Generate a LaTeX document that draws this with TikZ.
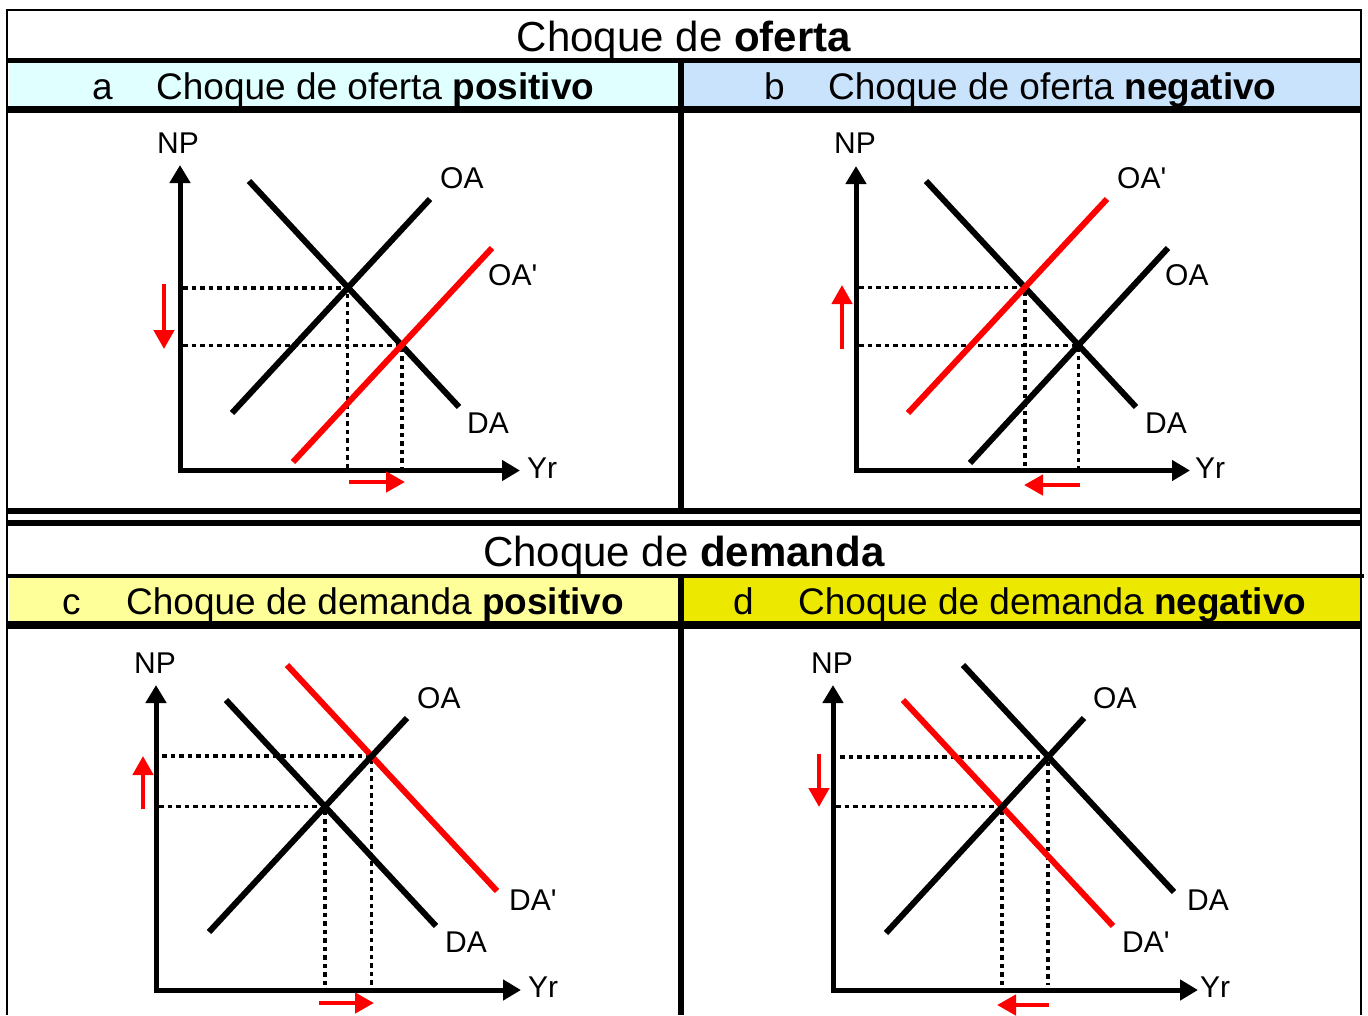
\documentclass[tikz,border=0pt]{standalone}
\usepackage{fontspec}
\setmainfont{Liberation Sans}
\usetikzlibrary{arrows.meta}
\definecolor{fillA}{RGB}{224,255,255}
\definecolor{fillB}{RGB}{202,227,252}
\definecolor{fillC}{RGB}{255,255,153}
\definecolor{fillD}{RGB}{236,232,0}
\newcommand\ttlfnt{\fontsize{42}{48}\selectfont}
\newcommand\subfnt{\fontsize{37}{42}\selectfont}
\newcommand\lblfnt{\fontsize{30}{34}\selectfont}
\newcommand\prm{\textquotesingle}
\tikzset{
  rule/.style={line width=#1, line cap=butt},
  axisline/.style={line width=5pt, line join=miter, {Triangle[length=18pt,width=20pt]}-{Triangle[length=18pt,width=20pt]}},
  curve/.style={line width=6pt},
  shifted/.style={line width=6pt, red},
  guide/.style={line width=3.5pt, dash pattern=on 4.5pt off 4pt},
  move/.style={line width=4.5pt, red, -{Triangle[length=19pt,width=20pt]}},
  lbl/.style={inner sep=0pt, anchor=base west, font=\lblfnt},
  lblc/.style={inner sep=0pt, anchor=base, font=\lblfnt},
  head/.style={inner sep=0pt, anchor=base west, font=\subfnt},
  ttl/.style={inner sep=0pt, anchor=base, font=\ttlfnt},
}
\begin{document}
\begin{tikzpicture}[x=1pt,y=-1pt]
\useasboundingbox (0,0) rectangle (1368,1015);
% ---------- table ----------
\fill[fillA] (9,62) rectangle (678,107);
\fill[fillB] (684,62) rectangle (1360,107);
\fill[fillC] (9,577) rectangle (678,622);
\fill[fillD] (684,577) rectangle (1360,622);
\draw[rule=2.5pt] (7,10) -- (1361.5,10);
\draw[rule=2.5pt] (7,8.75) -- (7,1015);
\draw[rule=2.5pt] (1361,8.75) -- (1361,1015);
\draw[rule=5pt] (7,60.5) -- (1362,60.5);
\draw[rule=7pt] (7,109.5) -- (1362,109.5);
\draw[rule=6pt] (7,511) -- (1362,511);
\draw[rule=6pt] (7,523) -- (1362,523);
\draw[rule=4pt] (7,576) -- (1364,576);
\draw[rule=8pt] (7,625) -- (1362,625);
\draw[rule=6pt] (681,60.5) -- (681,511);
\draw[rule=6pt] (681,576) -- (681,1015);
% ---------- headings ----------
\node[ttl] (t1) at (684,51) {Choque de \textbf{oferta}};
\node[head] (ha) at (92,99) {a};
\node[head] (ta) at (156,99) {Choque de oferta \textbf{positivo}};
\node[head] (hb) at (764,99) {b};
\node[head] (tb) at (828,99) {Choque de oferta \textbf{negativo}};
\node[ttl] (t2) at (684,566) {Choque de \textbf{demanda}};
\node[head] (hc) at (62,614) {c};
\node[head] (tc) at (126,614) {Choque de demanda \textbf{positivo}};
\node[head] (hd) at (733,614) {d};
\node[head] (td) at (798,614) {Choque de demanda \textbf{negativo}};
% ================= panel a =================
\coordinate (aY) at (180,165); \coordinate (aO) at (180,470.5); \coordinate (aX) at (520,470.5);
\coordinate (aD1) at (249,181); \coordinate (aD2) at (459,407);
\coordinate (aS1) at (232,413); \coordinate (aS2) at (430,199);
\coordinate (aR1) at (293,462); \coordinate (aR2) at (492,248);
\coordinate (aE1) at (347.5,288); \coordinate (aE2) at (402,345.5);
\coordinate (aH1) at (183,288); \coordinate (aH2) at (183,345.5);
\coordinate (aV1) at (347.5,468); \coordinate (aV2) at (402,468);
\coordinate (aM1) at (164,284); \coordinate (aM2) at (164,349);
\coordinate (aN1) at (349,482); \coordinate (aN2) at (405,482);
\draw[guide] (aH1) -- (aE1) -- (aV1);
\draw[guide] (aH2) -- (aE2) -- (aV2);
\draw[curve] (aD1) -- (aD2);
\draw[curve] (aS1) -- (aS2);
\draw[shifted] (aR1) -- (aR2);
\draw[axisline] (aY) -- (aO) -- (aX);
\draw[move] (aM1) -- (aM2);
\draw[move] (aN1) -- (aN2);
\node[lblc] (aNP) at (178,153) {NP};
\node[lbl] (aYr) at (527,478) {Yr};
\node[lbl] (aOA) at (440,188) {OA};
\node[lbl] (aOAp) at (488,285) {OA\prm};
\node[lbl] (aDA) at (467,433) {DA};
% ================= panel b =================
\coordinate (bY) at (856,166); \coordinate (bO) at (856,470.5); \coordinate (bX) at (1190,470.5);
\coordinate (bD1) at (926,181); \coordinate (bD2) at (1136,407);
\coordinate (bR1) at (908,413); \coordinate (bR2) at (1107,199);
\coordinate (bS1) at (970,463); \coordinate (bS2) at (1168,248);
\coordinate (bE1) at (1025,287.5); \coordinate (bE2) at (1078.5,345.5);
\coordinate (bH1) at (859,287.5); \coordinate (bH2) at (859,345.5);
\coordinate (bV1) at (1025,468); \coordinate (bV2) at (1078.5,468);
\coordinate (bM1) at (842,349); \coordinate (bM2) at (842,285);
\coordinate (bN1) at (1080,485); \coordinate (bN2) at (1024,485);
\draw[guide] (bH1) -- (bE1) -- (bV1);
\draw[guide] (bH2) -- (bE2) -- (bV2);
\draw[curve] (bD1) -- (bD2);
\draw[curve] (bS1) -- (bS2);
\draw[shifted] (bR1) -- (bR2);
\draw[axisline] (bY) -- (bO) -- (bX);
\draw[move] (bM1) -- (bM2);
\draw[move] (bN1) -- (bN2);
\node[lblc] (bNP) at (855,153) {NP};
\node[lbl] (bYr) at (1195,478) {Yr};
\node[lbl] (bOAp) at (1117,188) {OA\prm};
\node[lbl] (bOA) at (1165,285) {OA};
\node[lbl] (bDA) at (1145,433) {DA};
% ================= panel c =================
\coordinate (cY) at (156,685); \coordinate (cO) at (156,990); \coordinate (cX) at (521,990);
\coordinate (cR1) at (287,665); \coordinate (cR2) at (497,891);
\coordinate (cD1) at (226,700); \coordinate (cD2) at (436,926);
\coordinate (cS1) at (209,932); \coordinate (cS2) at (407,718);
\coordinate (cE1) at (371.5,756); \coordinate (cE2) at (325,806.5);
\coordinate (cH1) at (162,756); \coordinate (cH2) at (159,806.5);
\coordinate (cV1) at (371.5,985); \coordinate (cV2) at (325,985);
\coordinate (cM1) at (143,809); \coordinate (cM2) at (143,756);
\coordinate (cN1) at (319,1003); \coordinate (cN2) at (374,1003);
\draw[guide] (cH1) -- (cE1) -- (cV1);
\draw[guide] (cH2) -- (cE2) -- (cV2);
\draw[shifted] (cR1) -- (cR2);
\draw[curve] (cD1) -- (cD2);
\draw[curve] (cS1) -- (cS2);
\draw[axisline] (cY) -- (cO) -- (cX);
\draw[move] (cM1) -- (cM2);
\draw[move] (cN1) -- (cN2);
\node[lblc] (cNP) at (155,673) {NP};
\node[lbl] (cYr) at (528,997) {Yr};
\node[lbl] (cOA) at (417,708) {OA};
\node[lbl] (cDAp) at (509,910) {DA\prm};
\node[lbl] (cDA) at (445,952) {DA};
% ================= panel d =================
\coordinate (dY) at (833,685); \coordinate (dO) at (833,990); \coordinate (dX) at (1198,990);
\coordinate (dD1) at (963,665); \coordinate (dD2) at (1174,892);
\coordinate (dR1) at (903,700); \coordinate (dR2) at (1113,926);
\coordinate (dS1) at (886,933); \coordinate (dS2) at (1084,718);
\coordinate (dE1) at (1048,757); \coordinate (dE2) at (1002,806.5);
\coordinate (dH1) at (840,757); \coordinate (dH2) at (836,806.5);
\coordinate (dV1) at (1048,985); \coordinate (dV2) at (1002,985);
\coordinate (dM1) at (819,754); \coordinate (dM2) at (819,807);
\coordinate (dN1) at (1049,1005); \coordinate (dN2) at (997,1005);
\draw[guide] (dH1) -- (dE1) -- (dV1);
\draw[guide] (dH2) -- (dE2) -- (dV2);
\draw[curve] (dD1) -- (dD2);
\draw[shifted] (dR1) -- (dR2);
\draw[curve] (dS1) -- (dS2);
\draw[axisline] (dY) -- (dO) -- (dX);
\draw[move] (dM1) -- (dM2);
\draw[move] (dN1) -- (dN2);
\node[lblc] (dNP) at (832,673) {NP};
\node[lbl] (dYr) at (1200,997) {Yr};
\node[lbl] (dOA) at (1093,708) {OA};
\node[lbl] (dDA) at (1187,910) {DA};
\node[lbl] (dDAp) at (1122,952) {DA\prm};
\end{tikzpicture}
\end{document}
